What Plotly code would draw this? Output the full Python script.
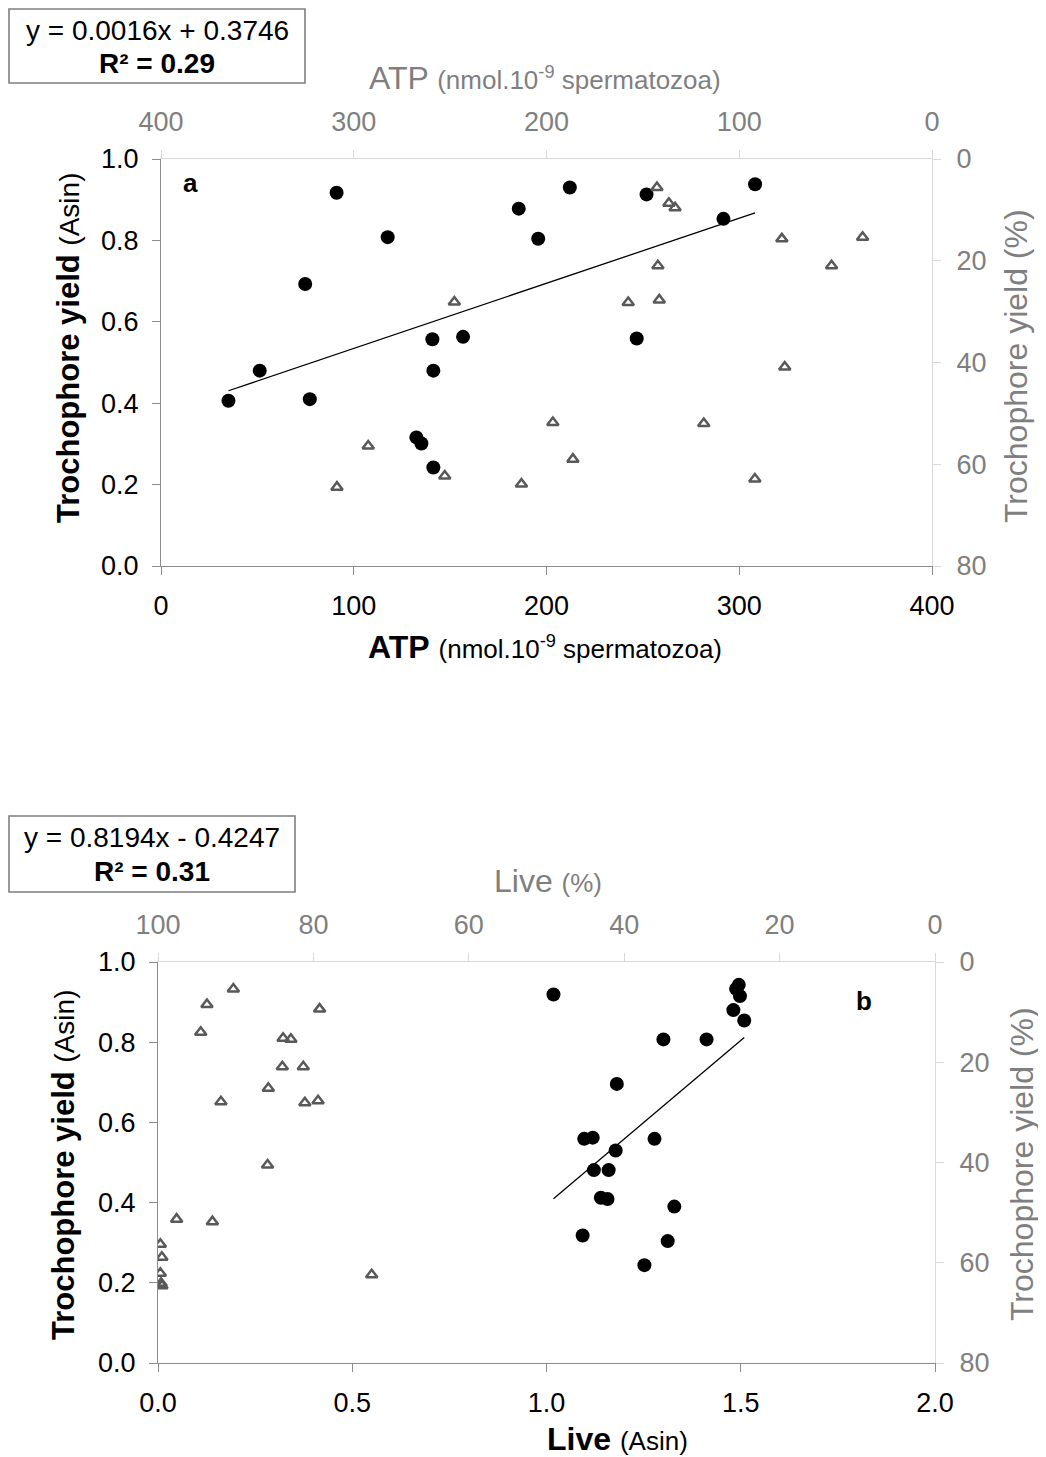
import plotly.graph_objects as go

# page body adds an 8px margin, so the figure sits at (8, 8) in the window
OFF = 8
W, H = 1046 - OFF, 1457 - OFF

# ---- panel a: ATP ----
atp_circle = [35.0, 51.2, 77.2, 74.8, 91.1, 117.6, 140.8, 141.3, 156.7, 132.5,
              135.1, 141.3, 185.6, 195.7, 212.1, 251.9, 308.2, 291.8, 246.8]
yield_asin_a = [0.406, 0.480, 0.410, 0.693, 0.917, 0.808, 0.557, 0.480, 0.563, 0.316,
                0.301, 0.242, 0.878, 0.804, 0.930, 0.913, 0.938, 0.853, 0.559]
atp_tri = [247.8, 292.5, 308.7, 252.8, 213.0, 196.7, 142.7, 136.5, 133.3, 77.9,
           36.0, 52.1, 142.2, 157.6, 141.5, 76.4, 118.4, 186.3, 91.9]
yield_pct_a = [28.1, 56.4, 64.5, 62.3, 63.9, 51.8, 5.6, 8.7, 9.6, 15.7,
               15.4, 21.0, 21.0, 28.2, 27.7, 40.9, 52.0, 59.0, 62.9]
slope_a, icpt_a = 0.0016, 0.3746

# ---- panel b: Live ----
live_asin = [1.018, 1.495, 1.488, 1.498, 1.481, 1.509, 1.301, 1.412, 1.181, 1.097,
             1.119, 1.278, 1.178, 1.122, 1.160, 1.140, 1.157, 1.329, 1.093, 1.312, 1.252]
yield_asin_b = [0.919, 0.943, 0.933, 0.915, 0.880, 0.854, 0.807, 0.807, 0.696, 0.559,
                0.562, 0.559, 0.530, 0.481, 0.481, 0.412, 0.409, 0.390, 0.318, 0.304, 0.244]
live_pct = [90.3, 93.7, 79.2, 94.5, 83.9, 82.9, 84.0, 81.3, 85.8, 91.9,
            81.1, 79.4, 85.9, 97.6, 93.0, 99.7, 99.5, 99.7, 99.6, 99.5, 72.5]
yield_pct_b = [5.4, 8.5, 9.4, 14.0, 15.2, 15.4, 20.9, 20.9, 25.2, 27.9,
               28.1, 27.7, 40.5, 51.3, 51.8, 56.3, 58.9, 62.1, 64.1, 64.6, 62.4]
slope_b, icpt_b = 0.8194, -0.4247

FONT = "Liberation Sans, Arial, sans-serif"
GREY = "#7f7f7f"
DARK_LINE = "#8c8c8c"
LIGHT_LINE = "#d9d9d9"
TRI_COL = "#595959"


def px(x):
    return (x - OFF) / W


def py(y):
    return 1 - (y - OFF) / H


fig = go.Figure()

def add_panel(xc, yc, xt, yt, slope, icpt, xa, ya, xa2, ya2):
    lo, hi = min(xc), max(xc)
    fig.add_trace(go.Scatter(
        x=xt, y=yt, xaxis=xa2, yaxis=ya2, mode="markers",
        marker=dict(symbol="triangle-up-open", size=10, color=TRI_COL,
                    line=dict(color=TRI_COL, width=2.5)),
        showlegend=False, hoverinfo="skip"))
    fig.add_trace(go.Scatter(
        x=xc, y=yc, xaxis=xa, yaxis=ya, mode="markers",
        marker=dict(symbol="circle", size=14, color="black"),
        showlegend=False))
    fig.add_trace(go.Scatter(
        x=[lo, hi], y=[slope * lo + icpt, slope * hi + icpt],
        xaxis=xa, yaxis=ya, mode="lines",
        line=dict(color="black", width=1.3), showlegend=False))


add_panel(atp_circle, yield_asin_a, atp_tri, yield_pct_a, slope_a, icpt_a,
          "x", "y", "x3", "y3")
add_panel(live_asin, yield_asin_b, live_pct, yield_pct_b, slope_b, icpt_b,
          "x2", "y2", "x4", "y4")

tick_common = dict(showgrid=False, zeroline=False, showline=True, ticks="outside",
                   ticklen=8, tickwidth=1, ticklabelstandoff=8, automargin=False)
main_tick = dict(tick_common, linecolor=DARK_LINE, tickcolor=DARK_LINE,
                 tickfont=dict(family=FONT, size=27, color="black"))
sec_tick = dict(tick_common, linecolor=LIGHT_LINE, tickcolor=LIGHT_LINE,
                tickfont=dict(family=FONT, size=27, color=GREY))
right_tick = dict(sec_tick, ticklabelstandoff=10)

dom_a_x = [px(161), px(932)]
dom_a_y = [py(566), py(159)]
dom_b_x = [px(158), px(935)]
dom_b_y = [py(1363), py(962)]

fig.update_layout(
    width=W, height=H,
    margin=dict(l=0, r=0, t=0, b=0, autoexpand=False),
    paper_bgcolor="white", plot_bgcolor="white",
    font=dict(family=FONT, size=24, color="black"),
    xaxis=dict(main_tick, domain=dom_a_x, anchor="y", range=[0, 400], dtick=100),
    yaxis=dict(main_tick, domain=dom_a_y, anchor="x", range=[0, 1], dtick=0.2,
               tickformat=".1f"),
    xaxis3=dict(sec_tick, overlaying="x", side="top", anchor="y3",
                range=[400, 0], dtick=100),
    yaxis3=dict(right_tick, overlaying="y", side="right", anchor="x3",
                range=[80, 0], dtick=20),
    xaxis2=dict(main_tick, domain=dom_b_x, anchor="y2", range=[0, 2], dtick=0.5,
                tickformat=".1f"),
    yaxis2=dict(main_tick, domain=dom_b_y, anchor="x2", range=[0, 1], dtick=0.2,
                tickformat=".1f"),
    xaxis4=dict(sec_tick, overlaying="x2", side="top", anchor="y4",
                range=[100, 0], dtick=20),
    yaxis4=dict(right_tick, overlaying="y2", side="right", anchor="x4",
                range=[80, 0], dtick=20),
)

SMALL = "<span style='font-size:26px'>"
SMALL_Y = "<span style='font-size:28px'>"


def note(text, x, y, size=32, color="black", angle=0):
    fig.add_annotation(text=text, x=px(x), y=py(y), xref="paper", yref="paper",
                       showarrow=False, textangle=angle, xanchor="center",
                       yanchor="middle", font=dict(family=FONT, size=size, color=color))


# panel a titles
note("ATP " + SMALL + "(nmol.10<sup>-9</sup> spermatozoa)</span>", 545, 78, color=GREY)
note("<b>ATP</b> " + SMALL + "(nmol.10<sup>-9</sup> spermatozoa)</span>", 545, 647)
note("<b>Trochophore yield</b> " + SMALL_Y + "(Asin)</span>", 68, 348, size=31, angle=-90)
note("Trochophore yield (%)", 1016, 366, size=32, color=GREY, angle=-90)
note("<b>a</b>", 190, 183, size=26)

# panel b titles
note("Live " + SMALL + "(%)</span>", 548, 881, color=GREY)
note("<b>Live</b> " + SMALL + "(Asin)</span>", 617, 1439)
note("<b>Trochophore yield</b> " + SMALL_Y + "(Asin)</span>", 63, 1165, size=31, angle=-90)
note("Trochophore yield (%)", 1022, 1164, size=32, color=GREY, angle=-90)
note("<b>b</b>", 864, 1001, size=26)

# regression boxes
for (x0, y0, x1, y1, eq, r2) in [
    (9, 9, 305, 83, "y = 0.0016x + 0.3746", "R² = 0.29"),
    (9, 816, 295, 892, "y = 0.8194x - 0.4247", "R² = 0.31"),
]:
    fig.add_shape(type="rect", xref="paper", yref="paper",
                  x0=px(x0), x1=px(x1), y0=py(y1), y1=py(y0),
                  line=dict(color="#7f7f7f", width=1.6), fillcolor="white")
    note(eq, (x0 + x1) / 2, y0 + 22, size=28)
    note("<b>" + r2 + "</b>", (x0 + x1) / 2, y0 + 55, size=28)

fig.write_html("out.html")
